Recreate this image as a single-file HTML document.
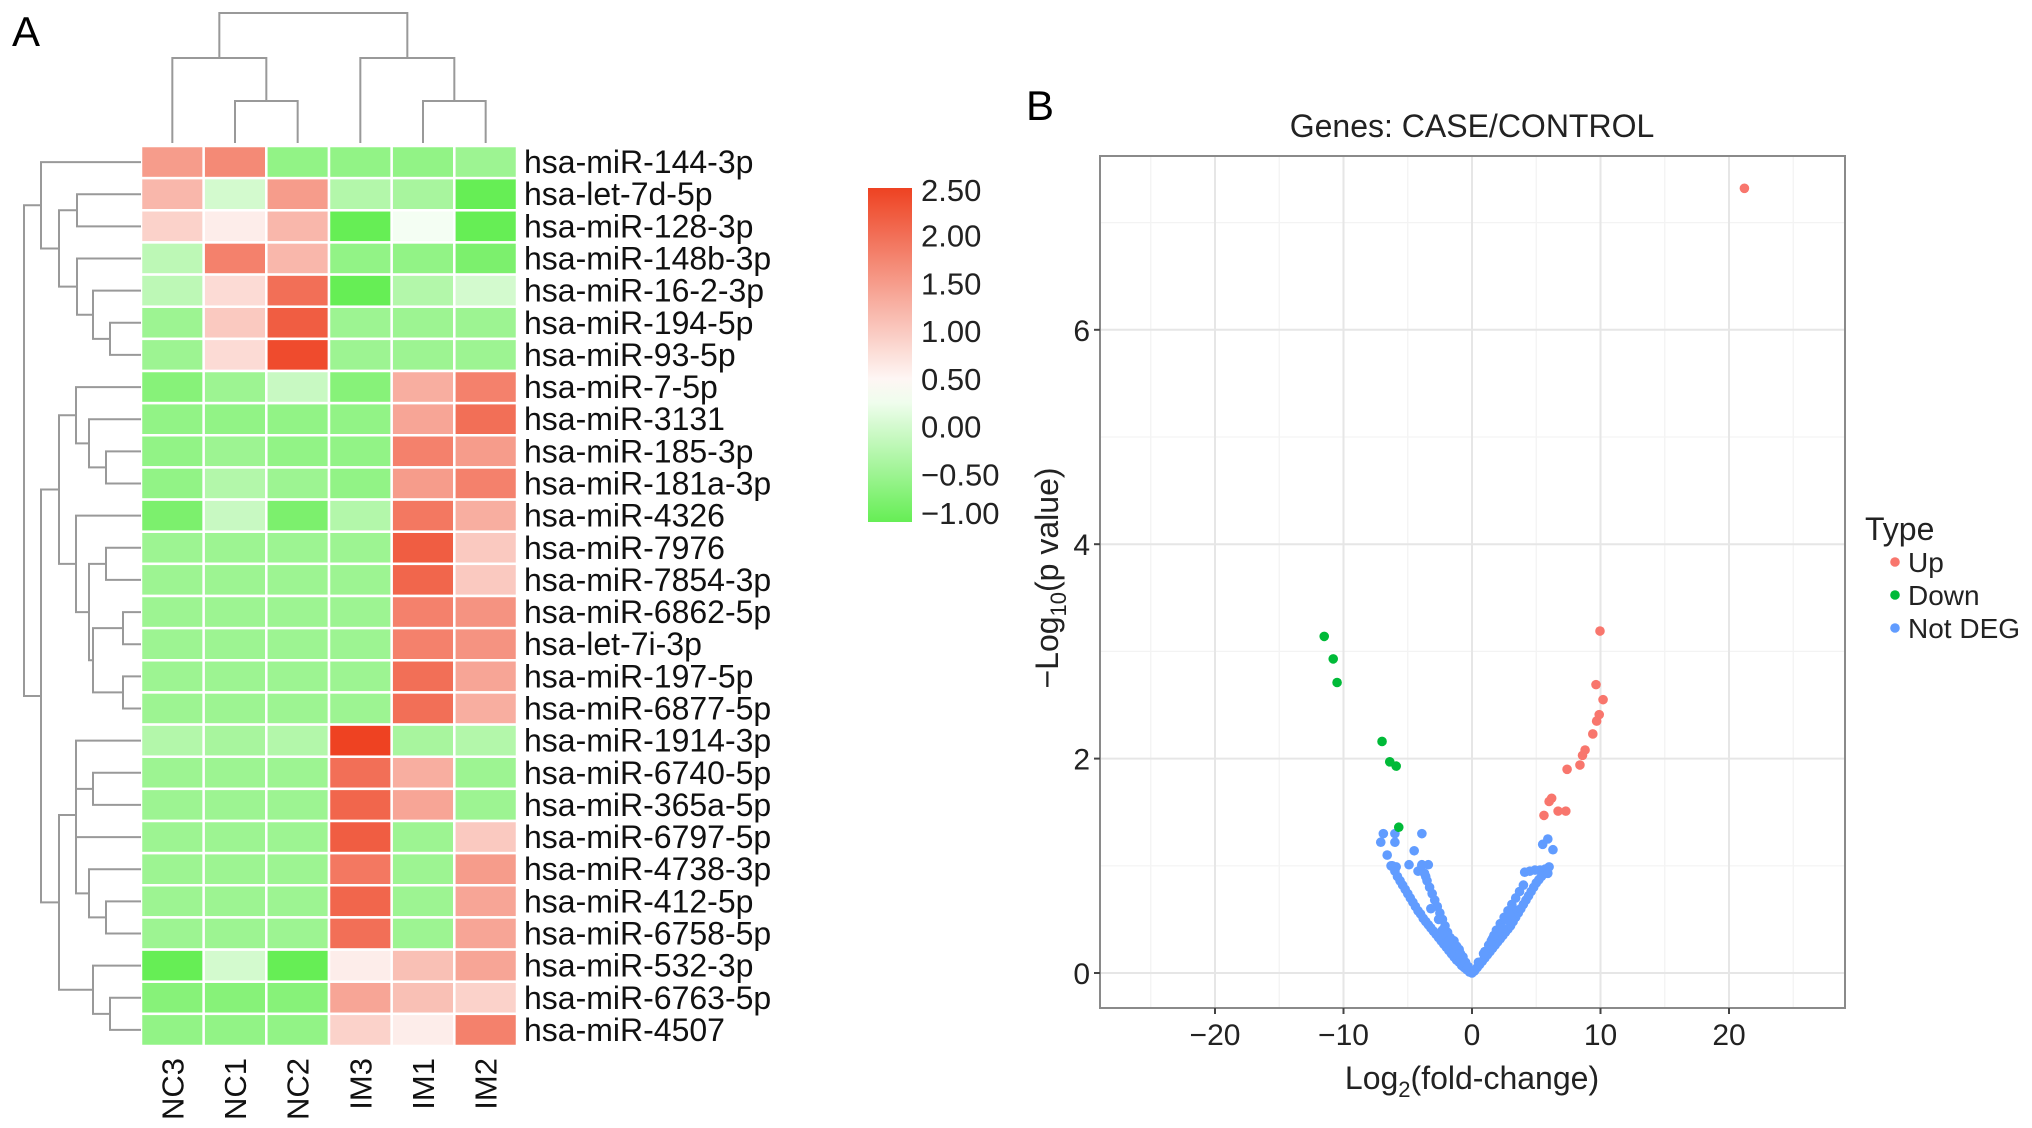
<!DOCTYPE html>
<html><head><meta charset="utf-8">
<style>
html,body{margin:0;padding:0;background:#fff;}
svg{display:block;font-family:"Liberation Sans",Arial,sans-serif;}
</style></head>
<body>
<svg id="fig" width="2032" height="1128" viewBox="0 0 2032 1128" xmlns="http://www.w3.org/2000/svg">
<rect x="0" y="0" width="2032" height="1128" fill="#fff"/>
<text x="12" y="46" font-size="42" fill="#000">A</text>
<text x="1026" y="120" font-size="42" fill="#000">B</text>
<g id="heat"></g>
<g id="volc"></g>
</svg>
<script>
// ---------- Heatmap data ----------
const rowNames = ["hsa-miR-144-3p","hsa-let-7d-5p","hsa-miR-128-3p","hsa-miR-148b-3p","hsa-miR-16-2-3p","hsa-miR-194-5p","hsa-miR-93-5p","hsa-miR-7-5p","hsa-miR-3131","hsa-miR-185-3p","hsa-miR-181a-3p","hsa-miR-4326","hsa-miR-7976","hsa-miR-7854-3p","hsa-miR-6862-5p","hsa-let-7i-3p","hsa-miR-197-5p","hsa-miR-6877-5p","hsa-miR-1914-3p","hsa-miR-6740-5p","hsa-miR-365a-5p","hsa-miR-6797-5p","hsa-miR-4738-3p","hsa-miR-412-5p","hsa-miR-6758-5p","hsa-miR-532-3p","hsa-miR-6763-5p","hsa-miR-4507"];
const colNames = ["NC3","NC1","NC2","IM3","IM1","IM2"];
const heatValues = [
[1.5,1.7,-0.6,-0.6,-0.6,-0.5],
[1.2,0.0,1.5,-0.3,-0.4,-1.0],
[0.9,0.6,1.2,-1.0,0.3,-1.0],
[-0.2,1.8,1.2,-0.6,-0.6,-0.8],
[-0.2,0.8,2.0,-1.0,-0.3,0.0],
[-0.5,1.0,2.2,-0.5,-0.5,-0.5],
[-0.5,0.8,2.4,-0.5,-0.5,-0.5],
[-0.7,-0.5,-0.1,-0.7,1.3,1.8],
[-0.6,-0.6,-0.6,-0.6,1.4,2.0],
[-0.6,-0.5,-0.6,-0.6,1.8,1.5],
[-0.6,-0.3,-0.5,-0.6,1.5,1.8],
[-0.8,-0.1,-0.8,-0.3,1.9,1.3],
[-0.5,-0.5,-0.5,-0.5,2.2,1.0],
[-0.5,-0.5,-0.5,-0.5,2.1,1.0],
[-0.5,-0.5,-0.5,-0.5,1.8,1.6],
[-0.5,-0.5,-0.5,-0.5,1.8,1.6],
[-0.5,-0.5,-0.5,-0.5,2.0,1.4],
[-0.5,-0.5,-0.5,-0.5,2.0,1.3],
[-0.3,-0.4,-0.3,2.6,-0.4,-0.3],
[-0.5,-0.5,-0.5,2.0,1.3,-0.5],
[-0.5,-0.5,-0.5,2.1,1.4,-0.5],
[-0.5,-0.5,-0.5,2.2,-0.5,1.0],
[-0.5,-0.5,-0.5,1.9,-0.5,1.5],
[-0.5,-0.5,-0.5,2.1,-0.5,1.4],
[-0.5,-0.5,-0.5,2.0,-0.5,1.4],
[-1.0,0.0,-1.0,0.6,1.1,1.4],
[-0.7,-0.7,-0.7,1.4,1.1,0.9],
[-0.6,-0.6,-0.6,0.9,0.6,1.8]];
const legendTicks = [2.5,2.0,1.5,1.0,0.5,0.0,-0.5,-1.0];
const legendTickLabels = ["2.50","2.00","1.50","1.00","0.50","0.00","\u22120.50","\u22121.00"];
// dendrogram merge structure (heights are distances from leaves)
const rowTree = [117,[100,0,[82,[64,1,2],[64,3,[48,4,[31,5,6]]]]],[100,[82,[65,7,[52,8,[35,9,10]]],[65,11,[52,[35,12,13],[48,[18,14,15],[18,16,17]]]]],[82,[65,[65,18,[48,19,20]],[65,21,[52,22,[35,23,24]]]],[48,25,[31,26,27]]]]];
const colTree = [130,[85,0,[42,1,2]],[85,3,[42,4,5]]];

// ---------- Volcano data ----------
const upX = [21.2,9.96,9.65,10.2,9.9,9.7,9.4,8.8,8.6,8.4,7.4,6.2,6.0,5.6,6.7,7.3];
const upY = [7.32,3.19,2.69,2.55,2.41,2.35,2.23,2.08,2.03,1.94,1.9,1.63,1.6,1.47,1.51,1.51];
const downX = [-11.5,-10.8,-10.5,-7.0,-6.4,-5.9,-5.7];
const downY = [3.14,2.93,2.71,2.16,1.97,1.93,1.36];
const nsX = [-6.9,-7.1,-6.0,-6.0,-3.9,-6.6,-4.5,-5.9,-6.2,-4.9,-3.9,-3.4,-3.6,-4.2,
-6.3,-6.0,-5.8,-5.6,-5.4,-5.2,-5.0,-4.8,-4.6,-4.4,-4.2,-4.0,-3.8,-3.6,-3.4,-3.2,-3.0,-2.8,-2.6,-2.4,-2.2,-2.0,-1.8,-1.6,-1.4,-1.2,-1.0,-0.8,-0.6,-0.4,-0.2,0.0,
-3.9,-3.7,-3.5,-3.3,-3.1,-2.9,-2.7,-2.5,-2.3,-2.1,-1.9,-1.7,-1.5,-3.2,-2.6,-2.0,-1.4,-1.0,-0.7,-1.2,-0.9,-0.5,-0.3,-2.3,-1.8,
0.2,0.4,0.6,0.8,1.0,1.2,1.4,1.6,1.8,2.0,2.2,2.4,2.6,2.8,3.0,3.2,3.4,3.6,3.8,4.0,4.2,4.4,4.6,4.8,5.0,5.2,5.4,5.6,5.8,6.0,
1.0,1.3,1.6,1.9,2.2,2.5,2.8,3.1,3.4,3.7,4.0,4.1,4.5,4.9,5.3,5.7,5.9,0.5,0.9,1.5,2.1,2.7,3.2,2.4,2.9,1.7,5.5,5.9,6.3];
const nsY = [1.3,1.22,1.3,1.22,1.3,1.1,1.14,0.99,1.0,1.01,1.01,1.01,0.9,0.95,
1.0,0.95,0.9,0.86,0.82,0.78,0.74,0.7,0.66,0.62,0.58,0.55,0.51,0.48,0.45,0.42,0.39,0.36,0.33,0.3,0.27,0.24,0.21,0.18,0.15,0.12,0.1,0.07,0.05,0.03,0.01,0.0,
1.0,0.93,0.86,0.8,0.74,0.68,0.62,0.56,0.5,0.44,0.38,0.33,0.28,0.6,0.5,0.35,0.3,0.22,0.15,0.25,0.18,0.1,0.06,0.4,0.3,
0.02,0.05,0.08,0.11,0.14,0.17,0.2,0.23,0.26,0.29,0.32,0.35,0.38,0.41,0.44,0.48,0.52,0.56,0.6,0.64,0.68,0.72,0.76,0.8,0.84,0.87,0.9,0.93,0.96,0.99,
0.2,0.26,0.32,0.4,0.46,0.52,0.58,0.64,0.7,0.76,0.82,0.94,0.95,0.96,0.96,0.97,0.93,0.1,0.18,0.3,0.38,0.5,0.6,0.42,0.55,0.35,1.2,1.25,1.15];
const xTicks = [-20,-10,0,10,20];
const xTickLabels = ["\u221220","\u221210","0","10","20"];
const yTicks = [0,2,4,6];
const yTickLabels = ["0","2","4","6"];

// ---------- helpers ----------
const NS = "http://www.w3.org/2000/svg";
function mk(tag, attrs, parent){
  const e = document.createElementNS(NS, tag);
  for (const k in attrs) e.setAttribute(k, attrs[k]);
  parent.appendChild(e);
  return e;
}
function lerp(a,b,t){return Math.round(a+(b-a)*t);}
function heatColor(v){
  const g=[102,238,85], w=[255,255,255], r=[238,66,34];
  let c;
  if (v<=0.4){ let t=Math.max(0,Math.min(1,(v+1)/1.4)); c=[lerp(g[0],w[0],t),lerp(g[1],w[1],t),lerp(g[2],w[2],t)]; }
  else { let t=Math.max(0,Math.min(1,(v-0.4)/2.1)); c=[lerp(w[0],r[0],t),lerp(w[1],r[1],t),lerp(w[2],r[2],t)]; }
  return "rgb("+c.join(",")+")";
}

// ---------- Heatmap ----------
const heat = document.getElementById("heat");
const gx0=141, gx1=517, gy0=146, gy1=1046;
const cw=(gx1-gx0)/colNames.length, rh=(gy1-gy0)/rowNames.length;
function colX(j){return gx0+cw*j;}
function rowY(i){return gy0+rh*i;}
heatValues.forEach((row,i)=>{
  row.forEach((v,j)=>{
    const r = mk("rect",{x:colX(j),y:rowY(i),width:cw,height:rh,fill:heatColor(v),stroke:"#fff","stroke-width":2.5},heat);
    
    
  });
});
rowNames.forEach((n,i)=>{
  const t = mk("text",{x:524,y:rowY(i)+rh/2+11,"font-size":32,fill:"#111"},heat);
  t.textContent=n;
  
  
});
colNames.forEach((n,j)=>{
  const cx=colX(j)+cw/2+11;
  const t = mk("text",{x:0,y:0,"font-size":31,fill:"#111","text-anchor":"end",transform:"translate("+cx+",1058) rotate(-90)"},heat);
  t.textContent=n;
  
  
});
// dendrograms
const dendro = mk("g",{stroke:"#999","stroke-width":2,fill:"none"},heat);


function drawRow(node){
  if (typeof node==="number") return [gx0, rowY(node)+rh/2];
  const a=drawRow(node[1]), b=drawRow(node[2]);
  const x=gx0-node[0];
  mk("path",{d:"M"+a[0]+","+a[1]+"H"+x+"V"+b[1]+"H"+b[0]},dendro);
  return [x,(a[1]+b[1])/2];
}
drawRow(rowTree);
function drawCol(node){
  if (typeof node==="number") return [colX(node)+cw/2, gy0-3];
  const a=drawCol(node[1]), b=drawCol(node[2]);
  const y=gy0-3-node[0];
  mk("path",{d:"M"+a[0]+","+a[1]+"V"+y+"H"+b[0]+"V"+b[1]},dendro);
  return [(a[0]+b[0])/2,y];
}
drawCol(colTree);
// color legend
const defs = mk("defs",{},heat);
const grad = mk("linearGradient",{id:"cbar",x1:0,y1:1,x2:0,y2:0},defs);
for (let k=0;k<=14;k++){ const v=-1+3.5*k/14; mk("stop",{offset:(k/14),"stop-color":heatColor(v)},grad); }
const cb = mk("rect",{x:868,y:188,width:44,height:334,fill:"url(#cbar)"},heat);


function cbY(v){return 522-(v+1)/3.5*334;}
legendTicks.forEach((v,k)=>{
  let y=cbY(v); y=Math.max(190,Math.min(513,y));
  const t=mk("text",{x:921,y:y+11,"font-size":31,fill:"#222"},heat);
  t.textContent=legendTickLabels[k];
  
  
});

// ---------- Volcano ----------
const volc=document.getElementById("volc");
const px0=1100, px1=1845, py0=156, py1=1008;
function sx(v){return 1472+v*12.85;}
function sy(v){return 973-v*107.2;}
mk("rect",{x:px0,y:py0,width:px1-px0,height:py1-py0,fill:"#fff"},volc);
const grid=mk("g",{},volc);


[-25,-15,-5,5,15,25].forEach(v=>mk("line",{x1:sx(v),x2:sx(v),y1:py0,y2:py1,stroke:"#f3f3f3","stroke-width":1.2},grid));
[1,3,5,7].forEach(v=>mk("line",{x1:px0,x2:px1,y1:sy(v),y2:sy(v),stroke:"#f3f3f3","stroke-width":1.2},grid));
xTicks.forEach(v=>mk("line",{x1:sx(v),x2:sx(v),y1:py0,y2:py1,stroke:"#e6e6e6","stroke-width":2},grid));
yTicks.forEach(v=>mk("line",{x1:px0,x2:px1,y1:sy(v),y2:sy(v),stroke:"#e6e6e6","stroke-width":2},grid));
function pts(xs,ys,col,name){
  const g=mk("g",{fill:col},volc);
  
  
  xs.forEach((x,i)=>{
    const c=mk("circle",{cx:sx(x),cy:sy(ys[i]),r:4.8},g);
    
    
  });
}
pts(nsX,nsY,"#619cff","series-not-deg");
pts(upX,upY,"#f8766d","series-up");
pts(downX,downY,"#00ba38","series-down");
mk("rect",{x:px0,y:py0,width:px1-px0,height:py1-py0,fill:"none",stroke:"#8a8a8a","stroke-width":2},volc);
xTicks.forEach((v,k)=>{
  mk("line",{x1:sx(v),x2:sx(v),y1:py1,y2:py1+6,stroke:"#444","stroke-width":2},volc);
  const t=mk("text",{x:sx(v),y:1045,"font-size":30,fill:"#222","text-anchor":"middle"},volc);
  t.textContent=xTickLabels[k];
  
  
});
yTicks.forEach((v,k)=>{
  mk("line",{x1:px0-6,x2:px0,y1:sy(v),y2:sy(v),stroke:"#444","stroke-width":2},volc);
  const t=mk("text",{x:1090,y:sy(v)+11,"font-size":30,fill:"#222","text-anchor":"end"},volc);
  t.textContent=yTickLabels[k];
  
  
});
</script>
<svg style="position:absolute;left:0;top:0" width="2032" height="1128">
<text x="1472" y="137" font-size="32" fill="#222" text-anchor="middle">Genes: CASE/CONTROL</text>
<text x="1472" y="1089" font-size="32" fill="#222" text-anchor="middle">Log<tspan font-size="22" dy="8">2</tspan><tspan dy="-8">(fold-change)</tspan></text>
<text transform="translate(1058,578) rotate(-90)" font-size="32" fill="#222" text-anchor="middle">−Log<tspan font-size="22" dy="8">10</tspan><tspan dy="-8">(p value)</tspan></text>
<g>
<text x="1865" y="540" font-size="32" fill="#222">Type</text>
<circle cx="1895" cy="562" r="4.8" fill="#f8766d"/>
<text x="1908" y="572" font-size="28" fill="#222">Up</text>
<circle cx="1895" cy="595" r="4.8" fill="#00ba38"/>
<text x="1908" y="605" font-size="28" fill="#222">Down</text>
<circle cx="1895" cy="628" r="4.8" fill="#619cff"/>
<text x="1908" y="638" font-size="28" fill="#222">Not DEG</text>
</g>
</svg>
</body></html>
